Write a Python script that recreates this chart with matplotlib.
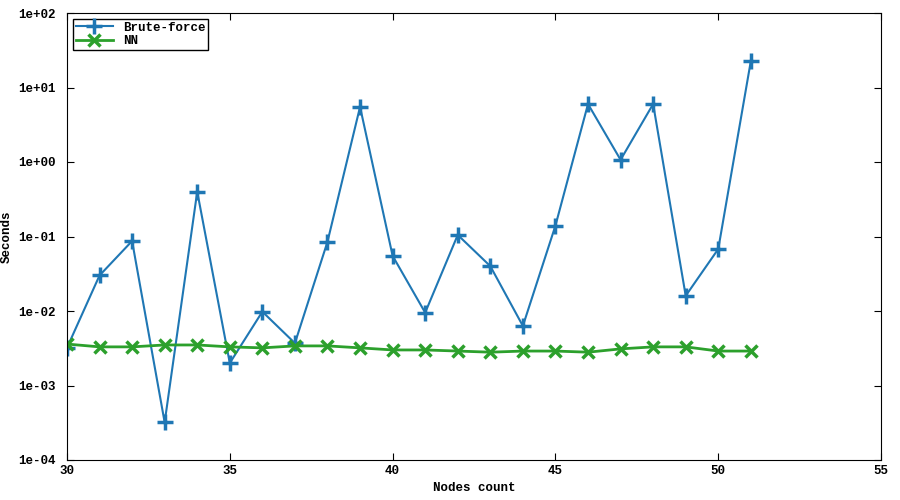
import matplotlib
matplotlib.use("Agg")
import matplotlib.pyplot as plt
from matplotlib.ticker import FixedLocator, NullLocator

nodes = list(range(30, 52))
brute = [3.2e-3, 0.030, 0.087, 3.2e-4, 0.40, 2.0e-3, 9.8e-3, 3.7e-3, 0.085, 5.5, 0.055,
         9.5e-3, 0.105, 0.040, 6.3e-3, 0.14, 6.0, 1.07, 6.0, 0.016, 0.068, 22.7]
nn = [3.6e-3, 3.3e-3, 3.3e-3, 3.5e-3, 3.5e-3, 3.3e-3, 3.2e-3, 3.4e-3, 3.4e-3, 3.2e-3, 3.0e-3,
      3.0e-3, 2.9e-3, 2.8e-3, 2.9e-3, 2.9e-3, 2.8e-3, 3.1e-3, 3.3e-3, 3.3e-3, 2.9e-3, 2.9e-3]
yticks = [1e-4, 1e-3, 1e-2, 1e-1, 1e0, 1e1, 1e2]
ylabels = ["1e-04", "1e-03", "1e-02", "1e-01", "1e+00", "1e+01", "1e+02"]

plt.rcParams['font.family'] = ['Liberation Mono', 'DejaVu Sans Mono']
plt.rcParams['font.weight'] = 'bold'
plt.rcParams['font.size'] = 9

fig = plt.figure(figsize=(9, 5), dpi=100)
ax = fig.add_axes([0.0744, 0.08, 0.9046, 0.894])
ax.plot(nodes, brute, color='#1f77b4', marker='+', markersize=11, markeredgewidth=2.5,
        linewidth=1.5, label='Brute-force')
ax.plot(nodes, nn, color='#2ca02c', marker='x', markersize=9, markeredgewidth=2.5,
        linewidth=2, label='NN')
ax.set_yscale('log')
ax.set_ylim(1e-4, 1e2)
ax.set_xlim(30, 55)
ax.set_xticks([30, 35, 40, 45, 50, 55])
ax.yaxis.set_major_locator(FixedLocator(yticks))
ax.set_yticklabels(ylabels)
ax.yaxis.set_minor_locator(NullLocator())
ax.tick_params(direction='in', top=True, right=True, length=5)
ax.tick_params(axis='y', pad=8)
ax.set_xlabel('Nodes count', fontweight='bold')
ax.set_ylabel('Seconds', fontweight='bold')
leg = ax.legend(loc='upper left', fancybox=False, edgecolor='black', framealpha=1,
                borderpad=0.2, handlelength=3, labelspacing=0.1, borderaxespad=0.5)
leg.get_frame().set_linewidth(1)
fig.savefig('out.png', dpi=100)
